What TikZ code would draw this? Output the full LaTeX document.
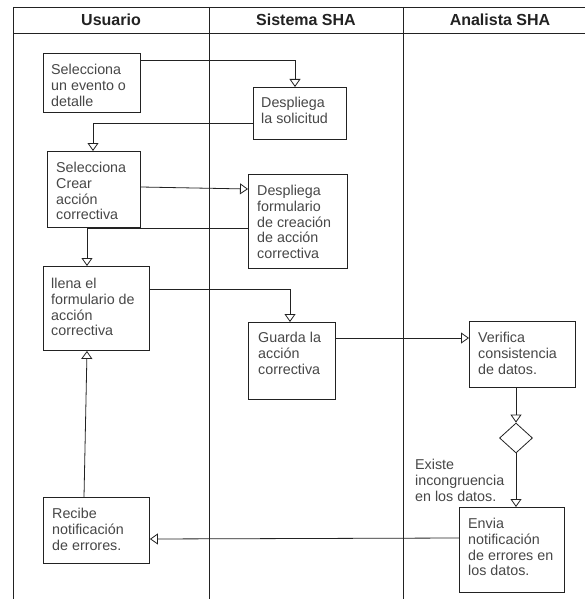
\documentclass[tikz,border=0pt]{standalone}
\usepackage{fontspec}
\setmainfont{Liberation Sans}
\usetikzlibrary{arrows.meta,shapes.geometric}
\definecolor{ink}{HTML}{222222}
\definecolor{txtgray}{HTML}{474747}
\tikzset{
  lane/.style={line width=0.95pt, draw=ink},
  head/.style={font=\bfseries\fontsize{16}{18}\selectfont, text=ink, inner sep=0},
  box/.style={draw=ink, line width=0.9pt, inner sep=0, anchor=north west, fill=white},
  txt/.style={anchor=north west, align=left, inner sep=0, text=txtgray,
              font=\fontsize{14.3}{15.8}\selectfont},
  decision/.style={diamond, draw=ink, line width=0.8pt, inner sep=0,
                   minimum width=33pt, minimum height=30pt},
  flow/.style={draw=ink, line width=0.8pt, -{Triangle[open,length=8pt,width=11pt]}},
}
\begin{document}
\begin{tikzpicture}[x=1pt,y=-1pt]
\useasboundingbox (0,0) rectangle (585,599);

% swimlane frame
\draw[lane] (13,7) -- (585,7);
\draw[lane] (13,33) -- (585,33);
\draw[lane] (13,7) -- (13,599);
\draw[lane] (209,7) -- (209,599);
\draw[lane] (403,7) -- (403,599);

% lane titles
\node[head] (h1) at (111,20) {Usuario};
\node[head] (h2) at (306,20) {Sistema SHA};
\node[head] (h3) at (500,20) {Analista SHA};

% activity boxes (y grows downwards, so text offsets are positive)
\node[box, minimum width=97pt, minimum height=59pt] (b1) at (43,53) {};
\node[txt] (t1) at ([shift={(8,11)}]b1.north west) {Selecciona\\un evento o\\detalle};

\node[box, minimum width=93pt, minimum height=52pt] (b2) at (253,87) {};
\node[txt] (t2) at ([shift={(8,10)}]b2.north west) {Despliega\\la solicitud};

\node[box, minimum width=93pt, minimum height=76pt] (b3) at (47,151) {};
\node[txt] (t3) at ([shift={(9,11)}]b3.north west) {Selecciona\\Crear\\acción\\correctiva};

\node[box, minimum width=99pt, minimum height=94pt] (b4) at (248,174) {};
\node[txt] (t4) at ([shift={(9,11)}]b4.north west) {Despliega\\formulario\\de creación\\de acción\\correctiva};

\node[box, minimum width=106pt, minimum height=84pt] (b5) at (43,266) {};
\node[txt] (t5) at ([shift={(8,12)}]b5.north west) {llena el\\formulario de\\acción\\correctiva};

\node[box, minimum width=87pt, minimum height=77pt] (b6) at (248,322) {};
\node[txt] (t6) at ([shift={(10,10)}]b6.north west) {Guarda la\\acción\\correctiva};

\node[box, minimum width=106pt, minimum height=66pt] (b7) at (469,321) {};
\node[txt] (t7) at ([shift={(9,11)}]b7.north west) {Verifica\\consistencia\\de datos.};

\node[decision] (d) at (516,438) {};

\node[box, minimum width=105pt, minimum height=85pt] (b8) at (459,507) {};
\node[txt] (t8) at ([shift={(9,11)}]b8.north west) {Envia\\notificación\\de errores en\\los datos.};

\node[box, minimum width=106pt, minimum height=66pt] (b9) at (43,497) {};
\node[txt] (t9) at ([shift={(9,11)}]b9.north west) {Recibe\\notificación\\de errores.};

% guard label of the decision
\node[txt] (g1) at (415,459) {Existe\\incongruencia\\en los datos.};

% control flow
\draw[flow] (b1.east |- 0,60) -| (b2.north -| 295,0);
\draw[flow] (b2.west |- 0,123) -| (b3.north -| 93,0);
\draw[flow] (b3.east |- 0,187) -- (b4.west |- 0,189);
\draw[flow] (b4.west |- 0,228) -| (b5.north -| 87,0);
\draw[flow] (b5.east |- 0,289) -| (b6.north -| 290,0);
\draw[flow] (b6.east |- 0,338) -- (b7.west |- 0,338);
\draw[flow] (b7.south -| d.north) -- (d.north);
\draw[flow] (d.south) -- (b8.north -| d.south);
\draw[flow] (b8.west |- 0,538) -- (b9.east |- 0,539);
\draw[flow] (b9.north -| 84,0) -- (b5.south -| 87,0);
\end{tikzpicture}
\end{document}
